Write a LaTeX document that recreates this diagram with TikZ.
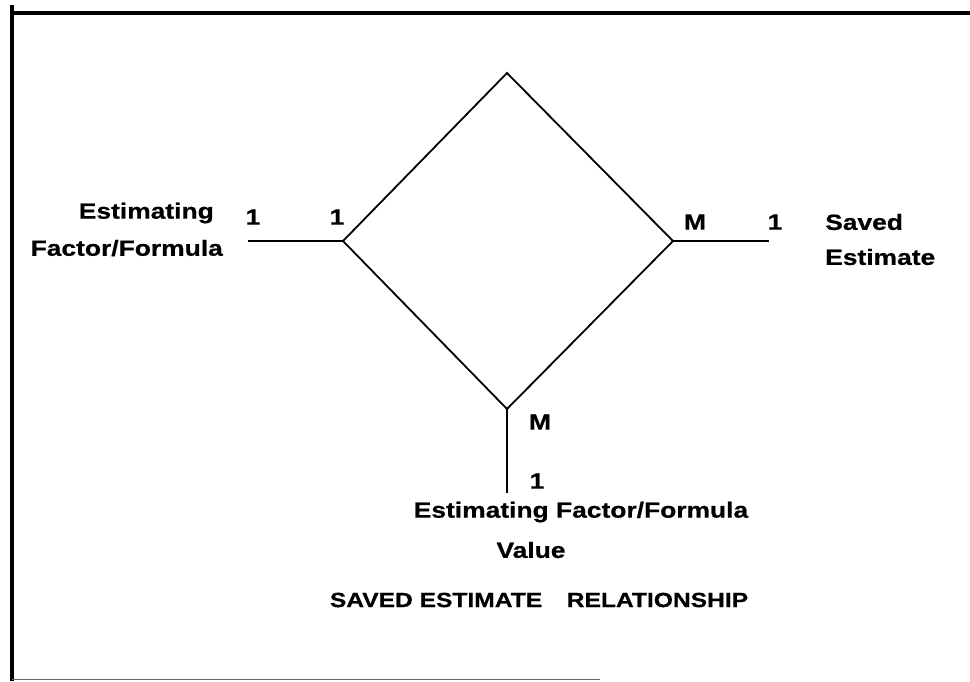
\documentclass[tikz,border=0pt]{standalone}
\usepackage{fontspec}
\newfontfamily\lblfont[FakeStretch=1.2,FakeBold=0.6]{Liberation Sans}
\begin{document}
\begin{tikzpicture}[x=1pt,y=-1pt,
  lbl/.style={font=\lblfont\bfseries\fontsize{22}{26}\selectfont, inner sep=0pt},
  edge/.style={line width=1.8pt},
  frame/.style={line width=3.5pt}]
\useasboundingbox (0,0) rectangle (970,681);
% frame
\draw[frame] (12,5) -- (12,681);
\draw[frame] (10.25,13) -- (970,13);
\draw[line width=1.2pt, black!60] (12,679.5) -- (600,679.5);
% diamond
\coordinate (top) at (507,73);
\coordinate (lv) at (343,241);
\coordinate (rv) at (673,241);
\coordinate (bv) at (507,409);
\draw[edge, line join=miter] (top) -- (rv) -- (bv) -- (lv) -- cycle;
% connectors
\coordinate (le) at (248,241);
\coordinate (re) at (769,241);
\coordinate (be) at (507,493);
\draw[edge] (lv) -- (le);
\draw[edge] (rv) -- (re);
\draw[edge] (bv) -- (be);
% labels
\node[lbl, anchor=east] (est1) at (214,213) {Estimating};
\node[lbl, anchor=east] (ff1) at (223,248) {Factor/Formula};
\node[lbl] (c1) at (253,217) {1};
\node[lbl] (c2) at (337,217) {1};
\node[lbl] (cM) at (695,222) {M};
\node[lbl] (c3) at (775,222) {1};
\node[lbl, anchor=west] (sv) at (825,222) {Saved};
\node[lbl, anchor=west] (se) at (825,257) {Estimate};
\node[lbl] (bM) at (540,422) {M};
\node[lbl] (b1) at (537,481) {1};
\node[lbl] (eff) at (581,512) {Estimating Factor/Formula};
\node[lbl] (val) at (531,550) {Value};
\node[lbl, font=\lblfont\bfseries\fontsize{20.5}{24}\selectfont] (title) at (539,600) {SAVED ESTIMATE\hspace{1.2em}RELATIONSHIP};
\end{tikzpicture}
\end{document}
